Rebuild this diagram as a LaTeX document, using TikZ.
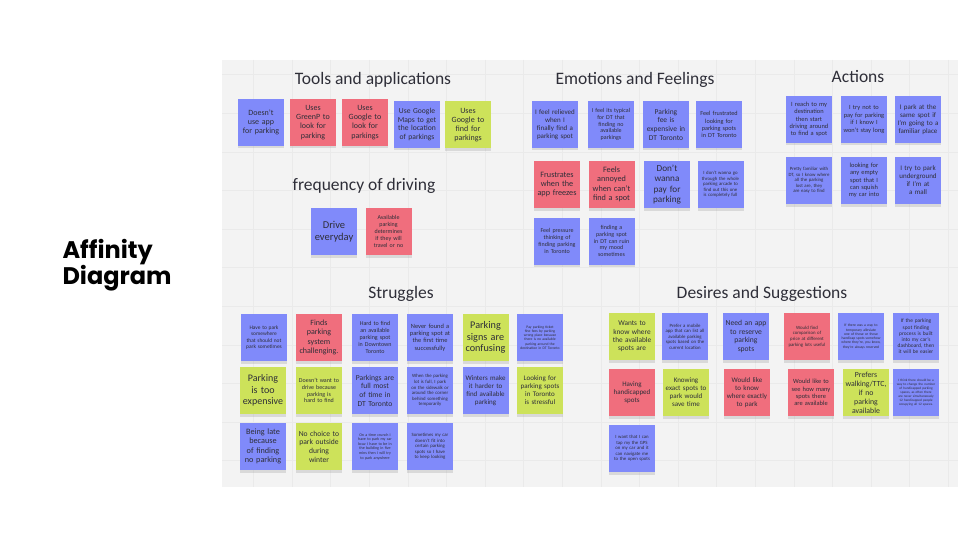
\documentclass[tikz,border=0pt]{standalone}
\usepackage{fontspec}
\setmainfont{Carlito}
\newfontfamily\headfont{Poppins}
\usetikzlibrary{shadows}
\definecolor{boardgray}{HTML}{F3F3F3}
\definecolor{gridgray}{HTML}{EAEAEA}
\definecolor{noteblue}{HTML}{808AFA}
\definecolor{notered}{HTML}{F06E7D}
\definecolor{notegreen}{HTML}{CDE25A}
\definecolor{inkgray}{HTML}{2E2E38}
\newcommand{\nf}[1]{\fontsize{#1}{\fpeval{1.15*#1}}\selectfont}
\hyphenpenalty=10000
\exhyphenpenalty=10000

\begin{document}
\begin{tikzpicture}[
    x=1pt, y=-1pt,
    gridline/.style={gridgray, line width=0.4pt},
    heading/.style={text=inkgray, font=\nf{17.5}},
    note/.style={minimum width=46pt, minimum height=47pt, inner sep=1pt, text width=41pt,
        align=center, text=inkgray,
        drop shadow={opacity=0.22, shadow xshift=0pt, shadow yshift=-2.5pt}},
    bnote/.style={note, fill=noteblue},
    rnote/.style={note, fill=notered},
    gnote/.style={note, fill=notegreen},
    sz/.style={font=\nf{#1}}
]

% -------- page and board --------
\useasboundingbox (0,0) rectangle (960,540);
\fill[white] (0,0) rectangle (960,540);
\fill[boardgray] (222,60) rectangle (958,487);
\foreach \k in {0,...,18}{
    \pgfmathsetmacro{\gx}{253.4+38.6*\k}
    \draw[gridline] (\gx,60) -- (\gx,487);
}
\foreach \k in {0,...,10}{
    \pgfmathsetmacro{\gy}{74.6+38.6*\k}
    \draw[gridline] (222,\gy) -- (958,\gy);
}

\node[anchor=west, align=left, font=\headfont\bfseries\fontsize{24}{24}\selectfont] (maintitle) at (59,265) {Affinity\\Diagram};

% ================================================================
% TOOLS AND APPLICATIONS / FREQUENCY OF DRIVING
% ================================================================
\node[heading] (ttools) at (373,80) {Tools and applications};
\node[bnote, sz=8] (tool1) at (261,122.5) {Doesn't use app for parking};
\node[rnote, sz=8] (tool2) at (313,122.5) {Uses GreenP to look for parking};
\node[rnote, sz=8] (tool3) at (365,122.5) {Uses Google to look for parkings};
\node[bnote, sz=7.6] (tool4) at (417,124.5) {Use Google Maps to get the location of parkings};
\node[gnote, sz=8] (tool5) at (468,125) {Uses Google to find for parkings};

\node[heading] (tfreq) at (364,186) {frequency of driving};
\node[bnote, sz=10.5] (freq1) at (334,231.5) {Drive everyday};
\node[rnote, sz=6] (freq2) at (388.5,231.5) {Available parking determines if they will travel or no};

% ================================================================
% EMOTIONS AND FEELINGS
% ================================================================
\node[heading] (temo) at (635,80) {Emotions and Feelings};
\node[bnote, sz=7] (emo1) at (555,124.5) {I feel relieved when I finally find a parking spot};
\node[bnote, sz=6] (emo2) at (611,124.5) {I feel its typical for DT that finding no available parkings};
\node[bnote, sz=7.5] (emo3) at (666,124.5) {Parking fee is expensive in DT Toronto};
\node[bnote, sz=6.2] (emo4) at (719,124.5) {Feel frustrated looking for parking spots in DT Toronto};
\node[rnote, sz=8.2] (emo5) at (557,184.5) {Frustrates when the app freezes};
\node[rnote, sz=8.2] (emo6) at (611.5,184.5) {Feels annoyed when can't find a spot};
\node[bnote, sz=9.2] (emo7) at (667,184.5) {Don't wanna pay for parking};
\node[bnote, sz=4.8] (emo8) at (720.5,184.5) {I don't wanna go through the whole parking arcade to find out this one is completely full};
\node[bnote, sz=6] (emo9) at (557,241) {Feel pressure thinking of finding parking in Toronto};
\node[bnote, sz=6] (emo10) at (611.5,241) {finding a parking spot in DT can ruin my mood sometimes};

% ================================================================
% ACTIONS
% ================================================================
\node[heading] (tact) at (858,77) {Actions};
\node[bnote, sz=6.4] (act1) at (809,119.5) {I reach to my destination then start driving around to find a spot};
\node[bnote, sz=6.4] (act2) at (864,119.5) {I try not to pay for parking if I know I won't stay long};
\node[bnote, sz=7] (act3) at (918,119.5) {I park at the same spot if I'm going to a familiar place};
\node[bnote, sz=4.8] (act4) at (809,180.5) {Pretty familiar with DT, so I know where all the parking lost are, they are easy to find};
\node[bnote, sz=6.4] (act5) at (864,180.5) {looking for any empty spot that I can squish my car into};
\node[bnote, sz=7] (act6) at (918,180.5) {I try to park underground if I'm at a mall};

% ================================================================
% STRUGGLES
% ================================================================
\node[heading] (tstrug) at (401,294) {Struggles};
\node[bnote, sz=5.4] (strug1) at (264,337.5) {Have to park somewhere that should not park sometimes};
\node[rnote, sz=8] (strug2) at (319,337.5) {Finds parking system challenging.};
\node[bnote, sz=6] (strug3) at (375,337.5) {Hard to find an available parking spot in Downtown Toronto};
\node[bnote, sz=6.4] (strug4) at (430,337.5) {Never found a parking spot at the first time successfully};
\node[gnote, sz=10.2] (strug5) at (485.5,337.5) {Parking signs are confusing};
\node[bnote, sz=3.7] (strug6) at (540,337.5) {Pay parking ticket fine fees by parking wrong place because there is no available parking around the destination in DT Toronto};
\node[gnote, sz=10] (strug7) at (263,390.5) {Parking is too expensive};
\node[gnote, sz=6] (strug8) at (319,390.5) {Doesn't want to drive because parking is hard to find};
\node[bnote, sz=7.6] (strug9) at (375,390.5) {Parkings are full most of time in DT Toronto};
\node[bnote, sz=4.8] (strug10) at (430,390.5) {When the parking lot is full, I park on the sidewalk or around the corner behind something temporarily};
\node[bnote, sz=7] (strug11) at (485.5,390.5) {Winters make it harder to find available parking};
\node[gnote, sz=7] (strug12) at (540,390.5) {Looking for parking spots in Toronto is stressful};
\node[bnote, sz=8.2] (strug13) at (263,446.5) {Being late because of finding no parking};
\node[gnote, sz=7.6] (strug14) at (319,446.5) {No choice to park outside during winter};
\node[bnote, sz=4] (strug15) at (375,446.5) {On a time crunch I have to park my car bcuz I have to be in the building in five mins then I will try to park anywhere};
\node[bnote, sz=4.8] (strug16) at (430,446.5) {Sometimes my car doesn't fit into certain parking spots so I have to keep looking};

% ================================================================
% DESIRES AND SUGGESTIONS
% ================================================================
\node[heading] (tdes) at (762,294) {Desires and Suggestions};
\node[gnote, sz=7.3] (des1) at (632,336.5) {Wants to know where the available spots are};
\node[bnote, sz=4.8] (des2) at (685,336.5) {Prefer a mobile app that can list all available parking spots based on the current location};
\node[bnote, sz=7.6] (des3) at (746,336.5) {Need an app to reserve parking spots};
\node[rnote, sz=4.8] (des4) at (807,336.5) {Would find comparison of price at different parking lots useful};
\node[bnote, sz=3.7] (des5) at (861,336.5) {If there was a way to temporary alleviate one of those or those handicap spots somehow where they're, you know, they're always reserved};
\node[bnote, sz=5.4] (des6) at (916,336.5) {If the parking spot finding process is built into my car's dashboard, then it will be easier};
\node[rnote, sz=7] (des7) at (632,392.5) {Having handicapped spots};
\node[gnote, sz=7] (des8) at (686,392.5) {Knowing exact spots to park would save time};
\node[rnote, sz=7] (des9) at (747,392.5) {Would like to know where exactly to park};
\node[rnote, sz=6.4] (des10) at (811,392.5) {Would like to see how many spots there are available};
\node[gnote, sz=7.8] (des11) at (866,392.5) {Prefers walking/TTC, if no parking available};
\node[bnote, sz=3.4] (des12) at (916,392.5) {I think there should be a way to change the number of handicapped parking spaces, as often there are never simultaneously 12 handicapped people occupying all 12 spaces.};
\node[bnote, sz=4.8] (des13) at (632,448.5) {I want that I can tap my the GPS on my car and it can navigate me to the open spots};

\end{tikzpicture}
\end{document}
